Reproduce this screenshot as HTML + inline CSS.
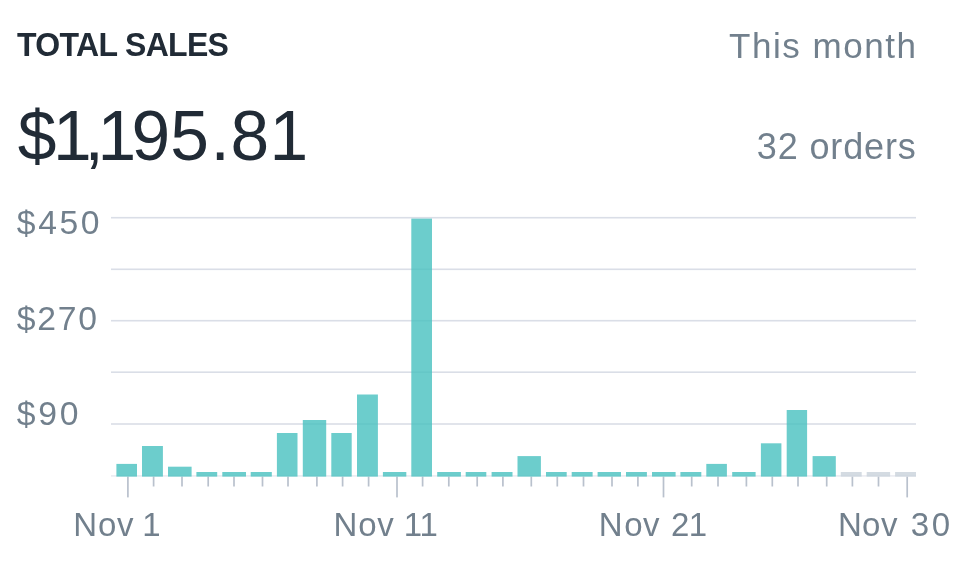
<!DOCTYPE html>
<html><head><meta charset="utf-8"><title>Total sales</title>
<style>
html,body{margin:0;padding:0;background:#fff;}
body{width:955px;height:588px;position:relative;overflow:hidden;font-family:"Liberation Sans",Arial,sans-serif;}
.t{position:absolute;white-space:nowrap;line-height:1;margin:0;}
.chart{position:absolute;left:0;top:0;}
.title{left:16.5px;top:28.2px;font-size:33.5px;font-weight:bold;color:#212b36;letter-spacing:-0.7px;transform:scaleX(0.955);transform-origin:0 0;}
.bigt{font-family:"Liberation Sans",Arial,sans-serif;font-size:69.5px;fill:#212b36;}
.xlt{font-family:"Liberation Sans",Arial,sans-serif;font-size:33px;fill:#72808d;}
.r{color:#72808d;font-size:35px;letter-spacing:1.55px;}
.month{right:37.4px;top:28.4px;}
.orders{right:38.4px;top:129.2px;letter-spacing:0.85px;font-size:36px;}
.yl{left:16.8px;color:#72808d;font-size:33.7px;}
</style></head><body>
<svg class="chart" width="955" height="588" viewBox="0 0 955 588">
<rect x="111" y="216.90" width="805" height="1.6" fill="#dadee7"/>
<rect x="111" y="268.50" width="805" height="1.6" fill="#dadee7"/>
<rect x="111" y="319.90" width="805" height="1.6" fill="#dadee7"/>
<rect x="111" y="371.40" width="805" height="1.6" fill="#dadee7"/>
<rect x="111" y="423.20" width="805" height="1.6" fill="#dadee7"/>
<rect x="111" y="475.10" width="805" height="1.6" fill="#eaecf1"/>
<rect x="127.05" y="476.6" width="1.7" height="20.8" fill="#b9c1cd"/>
<rect x="152.75" y="476.6" width="1.7" height="9.9" fill="#b9c1cd"/>
<rect x="181.15" y="476.6" width="1.7" height="9.9" fill="#b9c1cd"/>
<rect x="207.35" y="476.6" width="1.7" height="9.9" fill="#b9c1cd"/>
<rect x="233.15" y="476.6" width="1.7" height="9.9" fill="#b9c1cd"/>
<rect x="261.65" y="476.6" width="1.7" height="9.9" fill="#b9c1cd"/>
<rect x="287.15" y="476.6" width="1.7" height="9.9" fill="#b9c1cd"/>
<rect x="316.05" y="476.6" width="1.7" height="9.9" fill="#b9c1cd"/>
<rect x="341.75" y="476.6" width="1.7" height="9.9" fill="#b9c1cd"/>
<rect x="367.75" y="476.6" width="1.7" height="9.9" fill="#b9c1cd"/>
<rect x="396.15" y="476.6" width="1.7" height="20.8" fill="#b9c1cd"/>
<rect x="421.75" y="476.6" width="1.7" height="9.9" fill="#b9c1cd"/>
<rect x="447.95" y="476.6" width="1.7" height="9.9" fill="#b9c1cd"/>
<rect x="476.35" y="476.6" width="1.7" height="9.9" fill="#b9c1cd"/>
<rect x="502.05" y="476.6" width="1.7" height="9.9" fill="#b9c1cd"/>
<rect x="530.45" y="476.6" width="1.7" height="9.9" fill="#b9c1cd"/>
<rect x="556.45" y="476.6" width="1.7" height="9.9" fill="#b9c1cd"/>
<rect x="582.65" y="476.6" width="1.7" height="9.9" fill="#b9c1cd"/>
<rect x="611.15" y="476.6" width="1.7" height="9.9" fill="#b9c1cd"/>
<rect x="637.05" y="476.6" width="1.7" height="9.9" fill="#b9c1cd"/>
<rect x="662.65" y="476.6" width="1.7" height="20.8" fill="#b9c1cd"/>
<rect x="690.85" y="476.6" width="1.7" height="9.9" fill="#b9c1cd"/>
<rect x="717.15" y="476.6" width="1.7" height="9.9" fill="#b9c1cd"/>
<rect x="745.55" y="476.6" width="1.7" height="9.9" fill="#b9c1cd"/>
<rect x="771.45" y="476.6" width="1.7" height="9.9" fill="#b9c1cd"/>
<rect x="797.15" y="476.6" width="1.7" height="9.9" fill="#b9c1cd"/>
<rect x="825.85" y="476.6" width="1.7" height="9.9" fill="#b9c1cd"/>
<rect x="851.55" y="476.6" width="1.7" height="9.9" fill="#b9c1cd"/>
<rect x="877.65" y="476.6" width="1.7" height="9.9" fill="#b9c1cd"/>
<rect x="906.35" y="476.6" width="1.7" height="20.8" fill="#b9c1cd"/>
<rect x="116.4" y="463.9" width="20.6" height="12.7" fill="#47c1bf" fill-opacity="0.8"/>
<rect x="142.0" y="446.0" width="20.9" height="30.6" fill="#47c1bf" fill-opacity="0.8"/>
<rect x="168.0" y="466.7" width="23.6" height="9.9" fill="#47c1bf" fill-opacity="0.8"/>
<rect x="196.4" y="472.0" width="20.8" height="4.6" fill="#47c1bf" fill-opacity="0.8"/>
<rect x="222.3" y="472.0" width="23.7" height="4.6" fill="#47c1bf" fill-opacity="0.8"/>
<rect x="250.7" y="472.0" width="21.1" height="4.6" fill="#47c1bf" fill-opacity="0.8"/>
<rect x="276.9" y="433.0" width="20.6" height="43.6" fill="#47c1bf" fill-opacity="0.8"/>
<rect x="302.8" y="420.0" width="23.4" height="56.6" fill="#47c1bf" fill-opacity="0.8"/>
<rect x="331.3" y="433.0" width="20.4" height="43.6" fill="#47c1bf" fill-opacity="0.8"/>
<rect x="357.0" y="394.5" width="20.9" height="82.1" fill="#47c1bf" fill-opacity="0.8"/>
<rect x="382.9" y="472.0" width="23.4" height="4.6" fill="#47c1bf" fill-opacity="0.8"/>
<rect x="411.3" y="218.6" width="20.7" height="258.0" fill="#47c1bf" fill-opacity="0.8"/>
<rect x="437.2" y="472.0" width="23.7" height="4.6" fill="#47c1bf" fill-opacity="0.8"/>
<rect x="465.7" y="472.0" width="20.6" height="4.6" fill="#47c1bf" fill-opacity="0.8"/>
<rect x="491.6" y="472.0" width="20.9" height="4.6" fill="#47c1bf" fill-opacity="0.8"/>
<rect x="517.5" y="456.1" width="23.4" height="20.5" fill="#47c1bf" fill-opacity="0.8"/>
<rect x="546.0" y="472.0" width="20.7" height="4.6" fill="#47c1bf" fill-opacity="0.8"/>
<rect x="571.7" y="472.0" width="20.9" height="4.6" fill="#47c1bf" fill-opacity="0.8"/>
<rect x="597.6" y="472.0" width="23.4" height="4.6" fill="#47c1bf" fill-opacity="0.8"/>
<rect x="626.0" y="472.0" width="20.9" height="4.6" fill="#47c1bf" fill-opacity="0.8"/>
<rect x="652.0" y="472.0" width="23.6" height="4.6" fill="#47c1bf" fill-opacity="0.8"/>
<rect x="680.4" y="472.0" width="20.9" height="4.6" fill="#47c1bf" fill-opacity="0.8"/>
<rect x="706.3" y="463.9" width="20.6" height="12.7" fill="#47c1bf" fill-opacity="0.8"/>
<rect x="732.2" y="472.0" width="23.4" height="4.6" fill="#47c1bf" fill-opacity="0.8"/>
<rect x="760.9" y="443.3" width="20.5" height="33.3" fill="#47c1bf" fill-opacity="0.8"/>
<rect x="786.7" y="410.0" width="20.4" height="66.6" fill="#47c1bf" fill-opacity="0.8"/>
<rect x="812.6" y="456.1" width="23.2" height="20.5" fill="#47c1bf" fill-opacity="0.8"/>
<rect x="840.8" y="472.0" width="20.9" height="4.6" fill="#c9d2db" fill-opacity="0.8"/>
<rect x="866.7" y="472.0" width="23.4" height="4.6" fill="#c9d2db" fill-opacity="0.8"/>
<rect x="895.1" y="472.0" width="20.9" height="4.6" fill="#c9d2db" fill-opacity="0.8"/>
<text class="bigt" x="17.7 53.1 84.6 97.6 131.5 170.2 210.5 230.6 269.4" y="159.5">$1,195.81</text>
<text class="xlt" x="73.28 98.02 117.00 127.00 142.27" y="536">Nov 1</text>
<text class="xlt" x="333.53 358.27 377.25 387.25 403.82 419.52" y="536">Nov 11</text>
<text class="xlt" x="598.83 624.17 643.00 653.00 670.97 688.77" y="536">Nov 21</text>
<text class="xlt" x="837.93 862.02 880.95 890.95 910.72 931.82" y="536">Nov 30</text>
</svg>
<div class="t title">TOTAL SALES</div>
<div class="t r month">This month</div>
<div class="t r orders">32 orders</div>
<div class="t yl" style="top:205.5px;letter-spacing:2.6px">$450</div>
<div class="t yl" style="top:301.7px;letter-spacing:1.75px">$270</div>
<div class="t yl" style="top:396.9px;letter-spacing:2.7px">$90</div>
</body></html>
